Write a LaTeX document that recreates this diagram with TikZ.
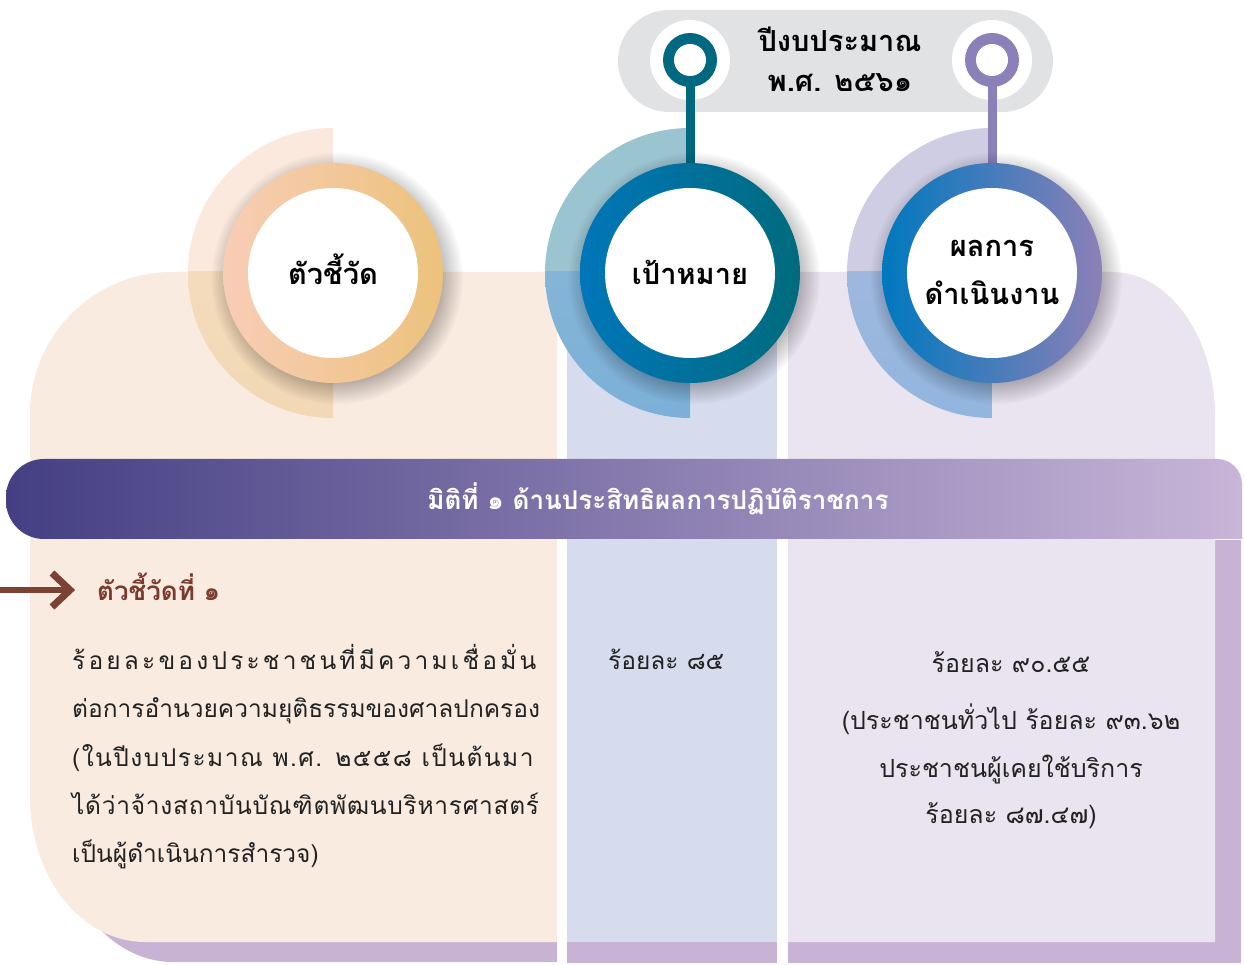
\documentclass[tikz,border=0pt]{standalone}
\usepackage{fontspec}
\setmainfont{Loma}[Script=Thai]
\usetikzlibrary{fadings}
\definecolor{peach}{HTML}{FAEBE0}
\definecolor{midpanel}{HTML}{D6DCEE}
\definecolor{rightpanel}{HTML}{EAE3F0}
\definecolor{shadowpurple}{HTML}{C9B3D5}
\definecolor{pillgrey}{HTML}{E1E2E4}
\definecolor{bandL}{HTML}{443F83}
\definecolor{bandR}{HTML}{C8B5D8}
\definecolor{tealpin}{HTML}{00697F}
\definecolor{purplepin}{HTML}{8B80B8}
\definecolor{brownarrow}{HTML}{7B4234}
\definecolor{browntext}{HTML}{7A3A2E}
\definecolor{bodytext}{HTML}{222222}
\tikzset{
  innerdisc/.style={circle, fill=white, minimum size=170pt, inner sep=0pt, align=center,
    font=\fontsize{28}{48}\selectfont\bfseries, text=black},
  pinbase/.style={circle, fill=white, minimum size=80pt, inner sep=0pt},
  stemline/.style={line width=9pt},
  bodyline/.style={anchor=base west, inner sep=0pt, font=\fontsize{24.5}{30}\selectfont, text=bodytext},
  centerline/.style={anchor=base, inner sep=0pt, font=\fontsize{25}{30}\selectfont, text=bodytext},
  titletext/.style={anchor=base, inner sep=0pt, font=\fontsize{29}{30}\selectfont\bfseries, text=black},
}
\begin{document}
\begin{tikzpicture}[x=1pt,y=1pt]
\useasboundingbox (0,0) rectangle (1244,964);
\fill[white] (0,0) rectangle (1244,964);
% purple backdrop (shadow)
\begin{scope}[shift={(28pt,-20pt)}]
  \fill[shadowpurple] (557,692) -- (172,692) arc[start angle=90,end angle=180,radius=142pt]
     -- (30,167) arc[start angle=180,end angle=270,x radius=115pt,y radius=145pt] -- (557,22) -- cycle;
\end{scope}
\fill[shadowpurple] (560,1) rectangle (1241,424);
% panels
\fill[peach] (557,692) -- (172,692) arc[start angle=90,end angle=180,radius=142pt]
   -- (30,167) arc[start angle=180,end angle=270,x radius=115pt,y radius=145pt] -- (557,22) -- cycle;
\fill[midpanel] (567,22) rectangle (777,692);
\fill[rightpanel] (788,22) -- (788,692) -- (1112,692) arc[start angle=90,end angle=0,x radius=103pt,y radius=144pt] -- (1215,22) -- cycle;
% white gaps
\fill[white] (557,0) rectangle (567,692);
\fill[white] (777,0) rectangle (788,692);
% banner
\path[left color=bandL, right color=bandR]
  (1242,425) -- (44,425) arc[start angle=270,end angle=180,radius=38pt] -- (6,467)
  arc[start angle=180,end angle=90,radius=38pt] -- (1217,505) arc[start angle=90,end angle=0,radius=25pt] -- cycle;
\node[anchor=base, inner sep=0pt, text=white, font=\fontsize{26}{30}\selectfont\bfseries] (band) at (658,454) {มิติที่ ๑ ด้านประสิทธิผลการปฏิบัติราชการ};
% top pill
\fill[pillgrey] (669,852) -- (1002,852) arc[start angle=-90,end angle=90,radius=51pt] -- (669,954) arc[start angle=90,end angle=270,radius=51pt] -- cycle;
\node[titletext] (pill1) at (840,912) {ปีงบประมาณ};
\node[titletext] (pill2) at (840,872) {พ.ศ. ๒๕๖๑};
% coordinates of circle centres
\coordinate (k1) at (333,691);
\coordinate (k2) at (690,691);
\coordinate (k3) at (992,691);
% half discs
\begin{scope}
  \clip (0,692) rectangle (1244,964);
  \fill[fill={rgb,255:red,251;green,233;blue,221}] (333,836) arc[start angle=90,end angle=270,radius=145pt] -- cycle;
  \fill[fill={rgb,255:red,155;green,196;blue,209}] (690,836) arc[start angle=90,end angle=270,radius=145pt] -- cycle;
  \fill[fill={rgb,255:red,207;green,205;blue,227}] (992,836) arc[start angle=90,end angle=270,radius=145pt] -- cycle;
\end{scope}
\begin{scope}
  \clip (0,0) rectangle (1244,692);
  \shade[top color={rgb,255:red,244;green,222;blue,196}, bottom color={rgb,255:red,242;green,216;blue,180}] (333,836) arc[start angle=90,end angle=270,radius=145pt] -- cycle;
  \shade[top color={rgb,255:red,140;green,186;blue,214}, bottom color={rgb,255:red,124;green,176;blue,216}] (690,836) arc[start angle=90,end angle=270,radius=145pt] -- cycle;
  \shade[top color={rgb,255:red,172;green,184;blue,222}, bottom color={rgb,255:red,146;green,182;blue,222}] (992,836) arc[start angle=90,end angle=270,radius=145pt] -- cycle;
\end{scope}
% pins
\node[pinbase] (p1) at (690,904) {};
\node[pinbase] (p2) at (992,904) {};
\draw[stemline, tealpin] (p1.center) -- (k2);
\draw[stemline, purplepin] (p2.center) -- (k3);
\fill[tealpin] (p1) circle[radius=27pt];
\fill[white] (p1) circle[radius=16pt];
\fill[purplepin] (p2) circle[radius=27pt];
\fill[white] (p2) circle[radius=16pt];
% ring shadows
\foreach \c in {k1,k2,k3}{
  \fill[black, opacity=0.3, path fading=circle with fuzzy edge 20 percent] ([shift={(4pt,-5pt)}]\c) circle[radius=126pt];
}
% rings
\shade[left color={rgb,255:red,248;green,205;blue,182}, right color={rgb,255:red,236;green,194;blue,124}] (k1) circle[radius=110pt];
\shade[left color={rgb,255:red,0;green,118;blue,185}, right color={rgb,255:red,0;green,107;blue,125}] (k2) circle[radius=110pt];
\shade[left color={rgb,255:red,0;green,120;blue,191}, right color={rgb,255:red,140;green,128;blue,183}] (k3) circle[radius=110pt];
% inner discs with labels
\node[innerdisc] (c1) at (k1) {};
\node[innerdisc] (c2) at (k2) {};
\node[innerdisc] (c3) at (k3) {};
\node[titletext] (t1) at (333,679) {ตัวชี้วัด};
\node[titletext] (t2) at (690,679) {เป้าหมาย};
\node[titletext] (t3a) at (992,707) {ผลการ};
\node[titletext] (t3b) at (992,659) {ดำเนินงาน};
% arrow and indicator heading
\coordinate (a0) at (0,374);
\coordinate (a1) at (70,374);
\coordinate (ha) at (52,391);
\coordinate (hb) at (52,357);
\draw[brownarrow, line width=6pt] (a0) -- (a1);
\draw[brownarrow, line width=7pt] (ha) -- (a1) -- (hb);
\node[anchor=base west, inner sep=0pt, text=browntext, font=\fontsize{26}{30}\selectfont\bfseries] (ind) at (97,363) {ตัวชี้วัดที่ ๑};
% left body
\node[bodyline] (l1) at (72,294) {\addfontfeature{LetterSpace=13}ร้อยละของประชาชนที่มีความเชื่อมั่น};
\node[bodyline] (l2) at (72,246) {ต่อการอำนวยความยุติธรรมของศาลปกครอง};
\node[bodyline] (l3) at (72,198) {\addfontfeature{LetterSpace=6}(ในปีงบประมาณ พ.ศ. ๒๕๕๘ เป็นต้นมา};
\node[bodyline] (l4) at (72,150) {\addfontfeature{LetterSpace=3}ได้ว่าจ้างสถาบันบัณฑิตพัฒนบริหารศาสตร์};
\node[bodyline] (l5) at (72,102) {เป็นผู้ดำเนินการสำรวจ)};
% middle
\node[bodyline] (m1) at (608,294) {ร้อยละ ๘๕};
% right
\node[centerline] (r1) at (1011,291) {ร้อยละ ๙๐.๕๕};
\node[centerline] (r2) at (1011,234) {(ประชาชนทั่วไป ร้อยละ ๙๓.๖๒};
\node[centerline] (r3) at (1011,187) {ประชาชนผู้เคยใช้บริการ};
\node[centerline] (r4) at (1011,141) {ร้อยละ ๘๗.๔๗)};
\end{tikzpicture}
\end{document}
